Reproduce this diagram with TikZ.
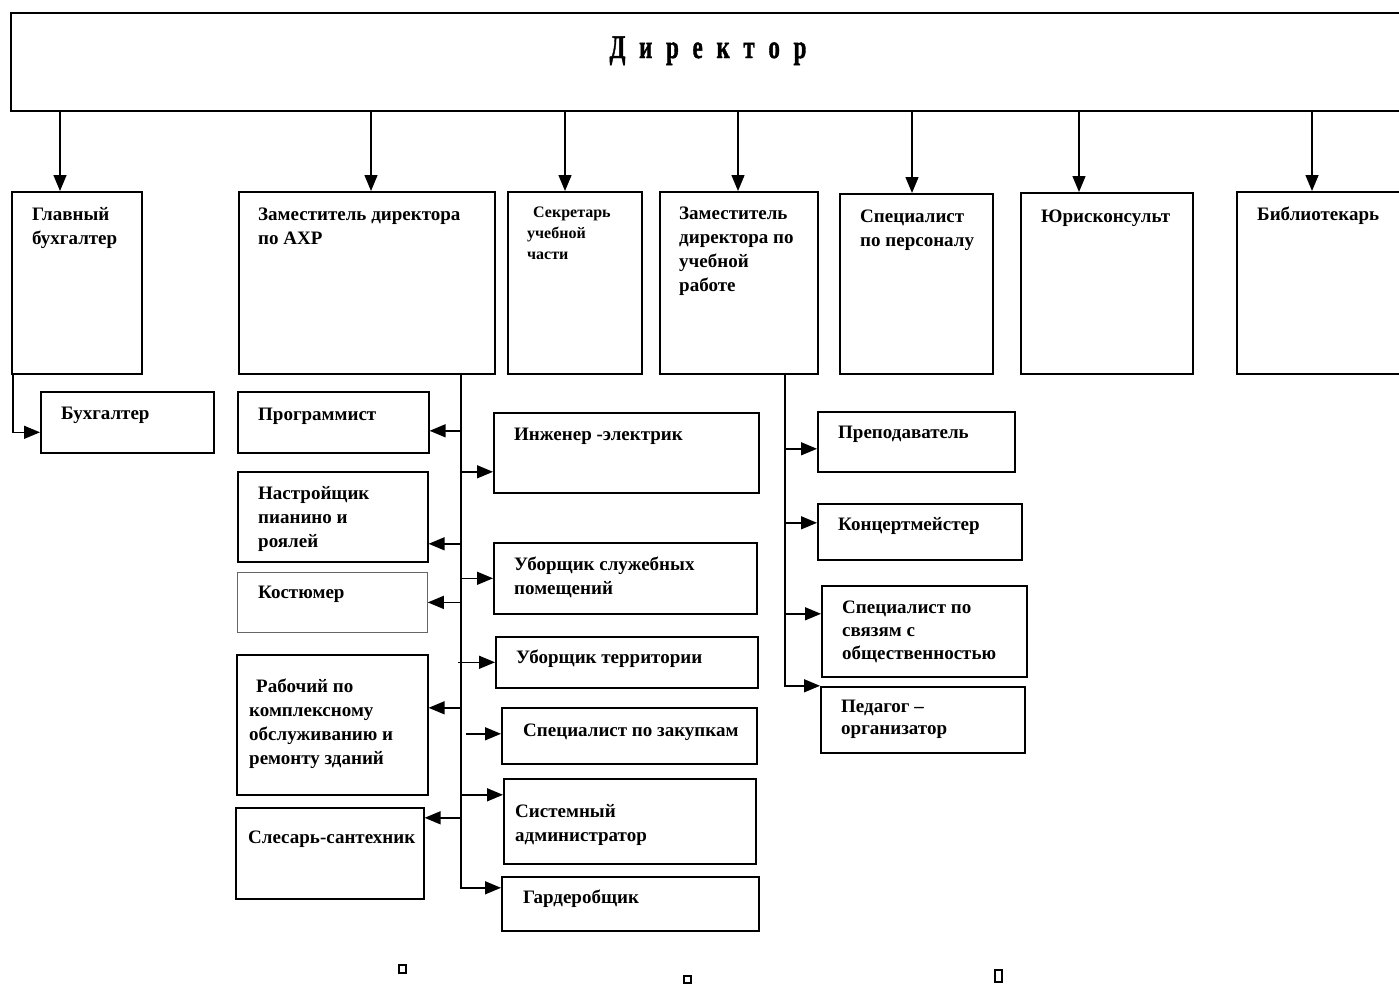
\documentclass[tikz,border=0pt]{standalone}
\usepackage{fontspec}
\usepackage{graphicx}
\setmainfont{Liberation Serif}
\newfontfamily\dirfont{Liberation Serif Bold}[FakeBold=1.5]
\usetikzlibrary{arrows.meta}
\newcommand{\lns}[1]{\begin{tabular}[t]{@{}l@{}}#1\end{tabular}}
\newcommand{\gp}{\hspace{19.5pt}}
\tikzset{
  orgbox/.style={draw, line width=1.6pt, inner sep=0pt, anchor=north west},
  thinbox/.style={draw=black!60, line width=0.8pt, inner sep=0pt, anchor=north west},
  lbl/.style={inner sep=0pt, anchor=base west, font=\bfseries\fontsize{19}{24}\selectfont},
  smlbl/.style={inner sep=0pt, anchor=base west, font=\bfseries\fontsize{16}{21}\selectfont},
  arr/.style={line width=1.4pt, -{Triangle[length=16pt,width=13pt]}},
}
\begin{document}
\begin{tikzpicture}[x=1pt,y=-1pt]
    \useasboundingbox (0,0) rectangle (1399,985);
    \clip (0,0) rectangle (1399,985);

    % top
    \node[orgbox, minimum width=1400pt, minimum height=98pt] (dir) at (10,12) {};
    \node[inner sep=0pt, anchor=base, font=\dirfont\fontsize{33}{33}\selectfont] (dir-t) at ([shift={(698,46)}]dir.north west) {\scalebox{0.7}[1]{Д\gp и\gp р\gp е\gp к\gp т\gp о\gp р}};

    % second row
    \node[orgbox, minimum width=130pt, minimum height=182pt] (glb) at (11,191) {};
    \node[orgbox, minimum width=256pt, minimum height=182pt] (axr) at (238,191) {};
    \node[orgbox, minimum width=134pt, minimum height=182pt] (sec) at (507,191) {};
    \node[orgbox, minimum width=158pt, minimum height=182pt] (zur) at (659,191) {};
    \node[orgbox, minimum width=153pt, minimum height=180pt] (spk) at (839,193) {};
    \node[orgbox, minimum width=172pt, minimum height=181pt] (jur) at (1020,192) {};
    \node[orgbox, minimum width=180pt, minimum height=182pt] (bib) at (1236,191) {};

    \node[lbl] at ([shift={(21,29)}]glb.north west) {\lns{Главный\\бухгалтер}};
    \node[lbl] at ([shift={(20,29)}]axr.north west) {\lns{Заместитель директора\\по АХР}};
    \node[smlbl] at ([shift={(20,26)}]sec.north west) {\lns{\hspace{6pt}Секретарь\\учебной\\части}};
    \node[lbl] at ([shift={(20,28)}]zur.north west) {\lns{Заместитель\\директора по\\учебной\\работе}};
    \node[lbl] at ([shift={(21,29)}]spk.north west) {\lns{Специалист\\по персоналу}};
    \node[lbl] at ([shift={(21,30)}]jur.north west) {Юрисконсульт};
    \node[lbl] at ([shift={(21,29)}]bib.north west) {Библиотекарь};

    \foreach \b/\dx in {glb/49, axr/133, sec/58, zur/79, spk/73, jur/59, bib/76}
        \draw[arr] ([xshift=\dx pt]\b.north west |- dir.south) -- ([xshift=\dx pt]\b.north west);

    % accounting
    \node[orgbox, minimum width=173pt, minimum height=61pt] (buh) at (40,391) {};
    \node[lbl] at ([shift={(21,28)}]buh.north west) {Бухгалтер};
    \draw[arr] ([xshift=2pt]glb.south west) |- ([yshift=-10pt]buh.west);

    % AXR, left column
    \node[orgbox, minimum width=191pt, minimum height=61pt] (prg) at (237,391) {};
    \node[orgbox, minimum width=190pt, minimum height=90pt] (nas) at (237,471) {};
    \node[thinbox, minimum width=190pt, minimum height=60pt] (kos) at (237,572) {};
    \node[orgbox, minimum width=191pt, minimum height=140pt] (rab) at (236,654) {};
    \node[orgbox, minimum width=188pt, minimum height=91pt] (sle) at (235,807) {};

    \node[lbl] at ([shift={(21,29)}]prg.north west) {Программист};
    \node[lbl] at ([shift={(21,28)}]nas.north west) {\lns{Настройщик\\пианино и\\роялей}};
    \node[lbl] at ([shift={(21,26)}]kos.north west) {Костюмер};
    \node[lbl] at ([shift={(13,38)}]rab.north west) {\lns{\hspace{7pt}Рабочий по\\комплексному\\обслуживанию и\\ремонту зданий}};
    \node[lbl] at ([shift={(13,36)}]sle.north west) {Слесарь-сантехник};

    % AXR, right column
    \node[orgbox, minimum width=265pt, minimum height=80pt] (inj) at (493,412) {};
    \node[orgbox, minimum width=263pt, minimum height=71pt] (ubs) at (493,542) {};
    \node[orgbox, minimum width=262pt, minimum height=51pt] (ubt) at (495,636) {};
    \node[orgbox, minimum width=255pt, minimum height=56pt] (zak) at (501,707) {};
    \node[orgbox, minimum width=252pt, minimum height=85pt] (sys) at (503,778) {};
    \node[orgbox, minimum width=257pt, minimum height=54pt] (gar) at (501,876) {};

    \node[lbl] at ([shift={(21,28)}]inj.north west) {Инженер -электрик};
    \node[lbl] at ([shift={(21,28)}]ubs.north west) {\lns{Уборщик служебных\\помещений}};
    \node[lbl] at ([shift={(21,27)}]ubt.north west) {Уборщик территории};
    \node[lbl] at ([shift={(22,29)}]zak.north west) {Специалист по закупкам};
    \node[lbl] at ([shift={(12,39)}]sys.north west) {\lns{Системный\\администратор}};
    \node[lbl] at ([shift={(22,27)}]gar.north west) {Гардеробщик};

    \coordinate (ta) at ([xshift=223pt]axr.south west);
    \draw[arr] (ta) |- ([yshift=16pt]gar.west);
    \foreach \b/\dy in {prg/-8.5, nas/-27, kos/0, rab/17, sle/35.5}
        \draw[arr] ([yshift=\dy pt]\b.east -| ta) -- ([yshift=\dy pt]\b.east);
    \foreach \b/\dy in {inj/-19, ubs/0, sys/26.5}
        \draw[arr] ([yshift=\dy pt]\b.west -| ta) -- ([yshift=\dy pt]\b.west);
    \draw[arr] ([xshift=-3pt]ubt.west -| ta) -- (ubt.west);
    \draw[arr] ([xshift=5pt,yshift=2pt]zak.west -| ta) -- ([yshift=2pt]zak.west);

    % teaching
    \node[orgbox, minimum width=197pt, minimum height=60pt] (pre) at (817,411) {};
    \node[orgbox, minimum width=204pt, minimum height=56pt] (kon) at (817,503) {};
    \node[orgbox, minimum width=205pt, minimum height=91pt] (svz) at (821,585) {};
    \node[orgbox, minimum width=204pt, minimum height=66pt] (ped) at (820,686) {};

    \node[lbl] at ([shift={(21,27)}]pre.north west) {Преподаватель};
    \node[lbl] at ([shift={(21,27)}]kon.north west) {Концертмейстер};
    \node[lbl, font=\bfseries\fontsize{19}{23}\selectfont] at ([shift={(21,28)}]svz.north west) {\lns{Специалист по\\связям с\\общественностью}};
    \node[lbl, font=\bfseries\fontsize{19}{22}\selectfont] at ([shift={(21,26)}]ped.north west) {\lns{Педагог –\\организатор}};

    \coordinate (tb) at ([xshift=126pt]zur.south west);
    \draw[arr] (tb) |- ([yshift=34pt]ped.west);
    \foreach \b/\dy in {pre/-7, kon/9, svz/17.5}
        \draw[arr] ([yshift=\dy pt]\b.west -| tb) -- ([yshift=\dy pt]\b.west);

    % stray marks
    \draw[line width=1.4pt] (399,965) rectangle (406,973);
    \draw[line width=1.4pt] (684,976) rectangle (691,983);
    \draw[line width=1.4pt] (995,970) rectangle (1002,982);
\end{tikzpicture}
\end{document}
